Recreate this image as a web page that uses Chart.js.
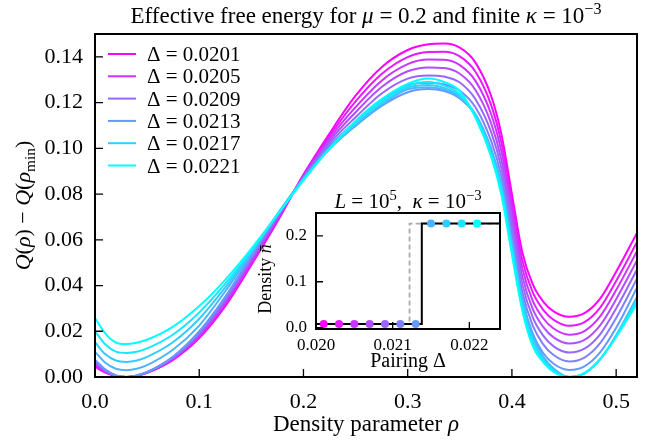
<!DOCTYPE html>
<html>
<head>
<meta charset="utf-8">
<script src="https://cdn.jsdelivr.net/npm/chart.js@4.4.1/dist/chart.umd.min.js"></script>
<style>
html, body { margin: 0; padding: 0; background: #fff; }
#wrap { position: relative; width: 662px; height: 443px; }
#main { position: absolute; left: 0; top: 0; }
#inset { position: absolute; left: 250px; top: 185px; }
</style>
</head>
<body>
<div id="wrap">
  <canvas id="main" width="662" height="443"></canvas>
  <canvas id="inset" width="262" height="190"></canvas>
</div>
<script>
// density parameter grid (rho) shared by every curve
const rho = [0, 0.01, 0.02, 0.03, 0.04, 0.05, 0.075, 0.1, 0.125, 0.15, 0.175, 0.2, 0.225, 0.25, 0.275, 0.3,
             0.32, 0.335, 0.35, 0.365, 0.38, 0.39, 0.4, 0.41, 0.42, 0.43, 0.44, 0.455, 0.47, 0.485, 0.5, 0.52];

const deltaLabels = ['0.0201', '0.0203', '0.0205', '0.0207', '0.0209', '0.0211', '0.0213', '0.0215', '0.0217', '0.0219', '0.0221'];
const legendShown = [0, 2, 4, 6, 8, 10];

const q0201 = [0.0045,0.0019,0.0004,0.0000,0.0005,0.0018,0.0075,0.0170,0.0310,0.0490,0.0680,0.0885,0.1065,0.1230,0.1355,0.1430,
               0.1455,0.1458,0.1440,0.1375,0.1230,0.1060,0.0800,0.0545,0.0405,0.0330,0.0287,0.0263,0.0280,0.0345,0.0460,0.0630];
const q0203 = [0.0050,0.0021,0.0005,0.0000,0.0005,0.0019,0.0078,0.0175,0.0317,0.0497,0.0685,0.0882,0.1054,0.1205,0.1325,0.1399,
               0.1421,0.1422,0.1402,0.1335,0.1190,0.1022,0.0765,0.0510,0.0370,0.0294,0.0250,0.0224,0.0241,0.0306,0.0420,0.0590];
const q0205 = [0.0056,0.0023,0.0005,0.0000,0.0005,0.0019,0.0080,0.0180,0.0324,0.0504,0.0690,0.0879,0.1043,0.1180,0.1296,0.1368,
               0.1388,0.1387,0.1364,0.1295,0.1150,0.0985,0.0730,0.0475,0.0333,0.0257,0.0212,0.0185,0.0202,0.0267,0.0380,0.0550];
const q0207 = [0.0062,0.0026,0.0006,0.0000,0.0006,0.0020,0.0083,0.0185,0.0331,0.0511,0.0695,0.0876,0.1032,0.1158,0.1268,0.1337,
               0.1354,0.1351,0.1326,0.1255,0.1110,0.0948,0.0695,0.0440,0.0297,0.0219,0.0173,0.0146,0.0163,0.0228,0.0340,0.0510];
const q0209 = [0.0068,0.0029,0.0006,0.0000,0.0006,0.0021,0.0085,0.0190,0.0338,0.0518,0.0700,0.0873,0.1021,0.1136,0.1240,0.1305,
               0.1319,0.1314,0.1288,0.1215,0.1072,0.0912,0.0660,0.0405,0.0261,0.0181,0.0134,0.0107,0.0125,0.0189,0.0300,0.0470];
const q0211 = [0.0072,0.0031,0.0007,0.0000,0.0007,0.0021,0.0088,0.0195,0.0345,0.0525,0.0705,0.0870,0.1010,0.1115,0.1212,0.1276,
               0.1287,0.1280,0.1252,0.1180,0.1033,0.0876,0.0625,0.0372,0.0225,0.0143,0.0096,0.0068,0.0086,0.0150,0.0258,0.0430];
const q0213 = [0.0075,0.0033,0.0007,0.0000,0.0007,0.0022,0.0090,0.0200,0.0352,0.0532,0.0710,0.0868,0.0998,0.1098,0.1185,0.1245,
               0.1259,0.1250,0.1218,0.1145,0.0995,0.0840,0.0590,0.0340,0.0190,0.0105,0.0058,0.0031,0.0048,0.0110,0.0215,0.0390];
const q0215 = [0.0110,0.0062,0.0036,0.0030,0.0036,0.0052,0.0120,0.0225,0.0375,0.0540,0.0712,0.0866,0.0998,0.1101,0.1190,0.1258,
               0.1267,0.1256,0.1223,0.1150,0.1000,0.0842,0.0588,0.0335,0.0180,0.0090,0.0037,0.0000,0.0017,0.0079,0.0183,0.0350];
const q0217 = [0.0152,0.0099,0.0072,0.0066,0.0072,0.0088,0.0153,0.0255,0.0392,0.0547,0.0710,0.0864,0.0998,0.1105,0.1196,0.1265,
               0.1277,0.1264,0.1228,0.1145,0.0985,0.0825,0.0570,0.0320,0.0165,0.0080,0.0030,0.0000,0.0017,0.0079,0.0180,0.0342];
const q0219 = [0.0200,0.0142,0.0111,0.0105,0.0110,0.0125,0.0186,0.0282,0.0408,0.0553,0.0710,0.0862,0.0999,0.1112,0.1204,0.1273,
               0.1290,0.1274,0.1236,0.1140,0.0975,0.0810,0.0552,0.0305,0.0150,0.0072,0.0026,0.0000,0.0018,0.0080,0.0178,0.0332];
const q0221 = [0.0258,0.0190,0.0151,0.0144,0.0150,0.0163,0.0220,0.0310,0.0425,0.0560,0.0710,0.0860,0.1000,0.1120,0.1215,0.1282,
               0.1305,0.1290,0.1250,0.1135,0.0965,0.0795,0.0535,0.0290,0.0135,0.0065,0.0022,0.0000,0.0018,0.0080,0.0175,0.0320];
const curves = [q0201, q0203, q0205, q0207, q0209, q0211, q0213, q0215, q0217, q0219, q0221];

const xTickVals = [0, 0.1, 0.2, 0.3, 0.4, 0.5];
const yTickVals = [0, 0.02, 0.04, 0.06, 0.08, 0.10, 0.12, 0.14];

// inset: density vs pairing
const pairing = [0.0201, 0.0203, 0.0205, 0.0207, 0.0209, 0.0211, 0.0213, 0.0215, 0.0217, 0.0219, 0.0221];
const densityPts = [0.008, 0.008, 0.008, 0.008, 0.008, 0.008, 0.008, 0.227, 0.227, 0.227, 0.227];
const stepX = [0.0200, 0.02138, 0.02138, 0.0224];
const stepY = [0.008, 0.008, 0.227, 0.227];
const dashX = [0.0200, 0.02122, 0.02122, 0.0224];
const dashY = [0.008, 0.008, 0.227, 0.227];
const insetXTicks = [0.020, 0.021, 0.022];
const insetYTicks = [0.0, 0.1, 0.2];

const SERIF = '"Liberation Serif", "Times New Roman", serif';
const fnt = (sz, it) => (it ? 'italic ' : '') + sz + 'px ' + SERIF;

// matplotlib "cool" colormap, magenta for the smallest pairing
function cool(i, n) {
    const t = 1 - i / (n - 1);
    return 'rgb(' + Math.round(255 * t) + ',' + Math.round(255 * (1 - t)) + ',255)';
}

// segments: [text, flags] with 'i' italic, '^' superscript, '_' subscript
function richWidth(ctx, segs, sz) {
    let w = 0;
    segs.forEach(([t, f = '']) => {
        const s = (f.includes('^') || f.includes('_')) ? sz * 0.7 : sz;
        ctx.font = fnt(s, f.includes('i'));
        w += ctx.measureText(t).width;
    });
    return w;
}
function drawRich(ctx, segs, x, y, sz, align) {
    const w = richWidth(ctx, segs, sz);
    let cx = align === 'center' ? x - w / 2 : x;
    ctx.textBaseline = 'alphabetic';
    ctx.textAlign = 'left';
    ctx.fillStyle = '#000';
    segs.forEach(([t, f = '']) => {
        const small = f.includes('^') || f.includes('_');
        const s = small ? sz * 0.7 : sz;
        ctx.font = fnt(s, f.includes('i'));
        const dy = f.includes('^') ? -sz * 0.4 : (f.includes('_') ? sz * 0.22 : 0);
        ctx.fillText(t, cx, y + dy);
        cx += ctx.measureText(t).width;
    });
}

// frame plus inward ticks on left and bottom
function drawFrame(chart, tickLen) {
    const { ctx, chartArea: a, scales } = chart;
    ctx.save();
    ctx.strokeStyle = '#000';
    ctx.lineWidth = 1.3;
    ctx.beginPath();
    scales.x.ticks.forEach(t => {
        const px = scales.x.getPixelForValue(t.value);
        ctx.moveTo(px, a.bottom);
        ctx.lineTo(px, a.bottom - tickLen);
    });
    scales.y.ticks.forEach(t => {
        const py = scales.y.getPixelForValue(t.value);
        ctx.moveTo(a.left, py);
        ctx.lineTo(a.left + tickLen, py);
    });
    ctx.stroke();
    ctx.lineWidth = 2;
    ctx.strokeRect(a.left, a.top, a.right - a.left, a.bottom - a.top);
    ctx.restore();
}

const mainDecor = {
    id: 'mainDecor',
    afterDraw(chart) {
        const { ctx, chartArea: a } = chart;
        drawFrame(chart, 8);
        const cx = (a.left + a.right) / 2;
        drawRich(ctx, [['Effective free energy for '], ['\u03bc', 'i'], [' = 0.2 and finite '], ['\u03ba', 'i'], [' = 10'], ['\u22123', '^']], cx, 23, 23, 'center');
        drawRich(ctx, [['Density parameter '], ['\u03c1', 'i']], cx, 431, 23, 'center');
        ctx.save();
        ctx.translate(30, (a.top + a.bottom) / 2);
        ctx.rotate(-Math.PI / 2);
        drawRich(ctx, [['Q', 'i'], ['('], ['\u03c1', 'i'], [') \u2212 '], ['Q', 'i'], ['('], ['\u03c1', 'i'], ['min', '_'], [')']], 0, 0, 22, 'center');
        ctx.restore();
        // legend
        ctx.save();
        legendShown.forEach((di, row) => {
            const y = 54 + row * 22.3;
            ctx.strokeStyle = chart.data.datasets[di].borderColor;
            ctx.lineWidth = 2;
            ctx.beginPath();
            ctx.moveTo(108, y);
            ctx.lineTo(136, y);
            ctx.stroke();
            drawRich(ctx, [['\u0394 = ' + deltaLabels[di]]], 147, y + 7, 21, 'left');
        });
        ctx.restore();
    }
};

new Chart(document.getElementById('main'), {
    type: 'line',
    data: {
        datasets: curves.map((q, i) => ({
            label: '\u0394 = ' + deltaLabels[i],
            data: rho.map((r, k) => ({ x: r, y: q[k] })),
            borderColor: cool(i, curves.length),
            borderWidth: 2,
            pointRadius: 0,
            cubicInterpolationMode: 'monotone',
            order: curves.length - i,
        })),
    },
    options: {
        responsive: false,
        animation: false,
        layout: { padding: { left: 0, top: 34, right: 25, bottom: 0 } },
        plugins: { legend: { display: false }, title: { display: false }, tooltip: { enabled: false } },
        scales: {
            x: {
                type: 'linear', min: 0, max: 0.52,
                grid: { display: false, drawTicks: false }, border: { display: false },
                afterBuildTicks: s => { s.ticks = xTickVals.map(v => ({ value: v })); },
                afterFit: s => { s.height = 66; },
                ticks: { color: '#000', padding: 12, font: { family: SERIF, size: 22 }, callback: v => v.toFixed(1), maxRotation: 0 },
            },
            y: {
                type: 'linear', min: 0, max: 0.15,
                grid: { display: false, drawTicks: false }, border: { display: false },
                afterBuildTicks: s => { s.ticks = yTickVals.map(v => ({ value: v })); },
                afterFit: s => { s.width = 95; },
                ticks: { color: '#000', padding: 12, font: { family: SERIF, size: 22 }, callback: v => v.toFixed(2) },
            },
        },
    },
    plugins: [mainDecor],
});

const insetDecor = {
    id: 'insetDecor',
    beforeDatasetsDraw(chart) {
        const { ctx, chartArea: a } = chart;
        ctx.save();
        ctx.fillStyle = '#fff';
        ctx.fillRect(a.left, a.top, a.right - a.left, a.bottom - a.top);
        ctx.restore();
    },
    afterDraw(chart) {
        const { ctx, chartArea: a } = chart;
        drawFrame(chart, 7);
        const cx = (a.left + a.right) / 2;
        drawRich(ctx, [['L', 'i'], [' = 10'], ['5', '^'], [',  '], ['\u03ba', 'i'], [' = 10'], ['\u22123', '^']], cx, a.top - 5, 21, 'center');
        drawRich(ctx, [['Pairing \u0394']], cx, 182, 20, 'center');
        ctx.save();
        ctx.translate(21, (a.top + a.bottom) / 2 + 8);
        ctx.rotate(-Math.PI / 2);
        drawRich(ctx, [['Density '], ['n\u0304', 'i']], 0, 0, 18, 'center');
        ctx.restore();
    }
};

new Chart(document.getElementById('inset'), {
    type: 'line',
    data: {
        datasets: [
            {
                data: pairing.map((p, k) => ({ x: p, y: densityPts[k] })),
                showLine: false,
                pointRadius: 4,
                pointBorderWidth: 0,
                pointBackgroundColor: pairing.map((p, k) => cool(k, pairing.length)),
                order: 0,
            },
            {
                data: stepX.map((x, k) => ({ x: x, y: stepY[k] })),
                borderColor: '#000', borderWidth: 2, pointRadius: 0, tension: 0, order: 1,
            },
            {
                data: dashX.map((x, k) => ({ x: x, y: dashY[k] })),
                borderColor: '#aaaaaa', borderWidth: 1.8, borderDash: [5, 3], pointRadius: 0, tension: 0, order: 2,
            },
        ],
    },
    options: {
        responsive: false,
        animation: false,
        layout: { padding: { left: 0, top: 28, right: 12, bottom: 0 } },
        plugins: { legend: { display: false }, tooltip: { enabled: false } },
        scales: {
            x: {
                type: 'linear', min: 0.0200, max: 0.0224,
                grid: { display: false, drawTicks: false }, border: { display: false },
                afterBuildTicks: s => { s.ticks = insetXTicks.map(v => ({ value: v })); },
                afterFit: s => { s.height = 46; },
                ticks: { color: '#000', padding: 6, font: { family: SERIF, size: 17 }, callback: v => v.toFixed(3), maxRotation: 0 },
            },
            y: {
                type: 'linear', min: -0.003, max: 0.25,
                grid: { display: false, drawTicks: false }, border: { display: false },
                afterBuildTicks: s => { s.ticks = insetYTicks.map(v => ({ value: v })); },
                afterFit: s => { s.width = 66; },
                ticks: { color: '#000', padding: 9, font: { family: SERIF, size: 17 }, callback: v => v.toFixed(1) },
            },
        },
    },
    plugins: [insetDecor],
});
</script>
</body>
</html>
